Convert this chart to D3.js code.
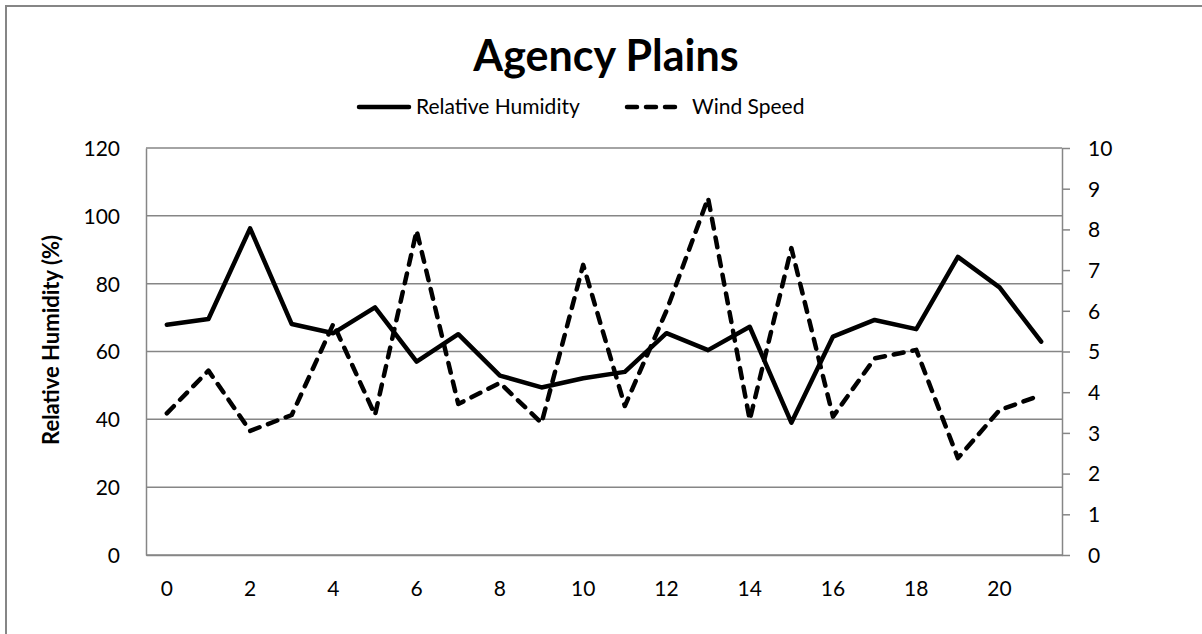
<!DOCTYPE html>
<html>
<head>
<meta charset="utf-8">
<script src="https://cdn.jsdelivr.net/npm/d3@7"></script>
<style>
  body { margin: 0; background: #fff; }
  text { font-family: Lato, "Open Sans", sans-serif; fill: #000; }
</style>
</head>
<body>
<div id="chart"></div>
<script>
var svgWidth = 1202;
var svgHeight = 634;

// data
var hours = d3.range(0, 22);
var humidity = [67.9, 69.6, 96.3, 68.1, 65.4, 73.0, 57.0, 65.1, 52.9, 49.4, 52.1,
  54.0, 65.4, 60.4, 67.3, 39.0, 64.4, 69.3, 66.6, 87.9, 78.9, 62.9];
var windSpeed = [3.48, 4.53, 3.05, 3.44, 5.68, 3.44, 7.97, 3.71, 4.23, 3.24, 7.13,
  3.66, 6.0, 8.77, 3.32, 7.54, 3.40, 4.83, 5.04, 2.38, 3.56, 3.93];
var leftTicks = [0, 20, 40, 60, 80, 100, 120];
var rightTicks = [0, 1, 2, 3, 4, 5, 6, 7, 8, 9, 10];
var xLabels = [0, 2, 4, 6, 8, 10, 12, 14, 16, 18, 20];

var margin = { top: 148, right: 140, bottom: 79, left: 146 };
var width = svgWidth - margin.left - margin.right;
var height = svgHeight - margin.top - margin.bottom;

var svg = d3.select("#chart")
  .append("svg")
  .attr("width", svgWidth)
  .attr("height", svgHeight);

// outer chart border (cropped on right and bottom)
svg.append("path")
  .attr("d", "M6,640 L6,6 L1210,6")
  .attr("fill", "none")
  .attr("stroke", "#868686")
  .attr("stroke-width", 2);

var chartGroup = svg.append("g")
  .attr("transform", `translate(${margin.left}, ${margin.top})`);

// scales
var xScale = d3.scaleBand()
  .domain(hours)
  .range([0, width]);
var yLeft = d3.scaleLinear().domain([0, 120]).range([height, 0]);
var yRight = d3.scaleLinear().domain([0, 10]).range([height, 0]);

var gridColor = "#868686";

// gridlines
chartGroup.selectAll(".grid")
  .data(leftTicks)
  .enter()
  .append("line")
  .attr("x1", 0)
  .attr("x2", width)
  .attr("y1", d => yLeft(d))
  .attr("y2", d => yLeft(d))
  .attr("stroke", gridColor)
  .attr("stroke-width", 1.5);

// left axis (labels only)
var leftAxis = d3.axisLeft(yLeft).tickValues(leftTicks).tickSize(0).tickPadding(26);
var gl = chartGroup.append("g").call(leftAxis);
gl.select(".domain").attr("stroke", gridColor).attr("stroke-width", 1.5);
gl.selectAll("text").style("font-size", "21px").attr("dy", "0.35em");

// right axis
var rightAxis = d3.axisRight(yRight).tickValues(rightTicks).tickSize(8).tickSizeOuter(0).tickPadding(18);
var gr = chartGroup.append("g")
  .attr("transform", `translate(${width}, 0)`)
  .call(rightAxis);
gr.select(".domain").attr("stroke", gridColor).attr("stroke-width", 1.5);
gr.selectAll(".tick line").attr("stroke", gridColor).attr("stroke-width", 1.5);
gr.selectAll("text").style("font-size", "21px").attr("dy", "0.35em");

// bottom axis
var bottomAxis = d3.axisBottom(xScale).tickValues(xLabels).tickSize(0).tickPadding(26);
var gb = chartGroup.append("g")
  .attr("transform", `translate(0, ${height})`)
  .call(bottomAxis);
gb.select(".domain").attr("stroke", gridColor).attr("stroke-width", 1.5);
gb.selectAll("text").style("font-size", "21px");

// lines
var rhLine = d3.line()
  .x((d, i) => xScale(hours[i]) + xScale.bandwidth() / 2)
  .y(d => yLeft(d));
var wsLine = d3.line()
  .x((d, i) => xScale(hours[i]) + xScale.bandwidth() / 2)
  .y(d => yRight(d));

chartGroup.append("path")
  .datum(humidity)
  .attr("d", rhLine)
  .attr("fill", "none")
  .attr("stroke", "#000")
  .attr("stroke-width", 4.5)
  .attr("stroke-linejoin", "round")
  .attr("stroke-linecap", "round");

chartGroup.append("path")
  .datum(windSpeed)
  .attr("d", wsLine)
  .attr("fill", "none")
  .attr("stroke", "#000")
  .attr("stroke-width", 4.5)
  .attr("stroke-dasharray", "10,9")
  .attr("stroke-linejoin", "round")
  .attr("stroke-linecap", "round");

// title
svg.append("text")
  .attr("x", 606)
  .attr("y", 71)
  .attr("text-anchor", "middle")
  .style("font-size", "43px")
  .style("font-weight", "bold")
  .text("Agency Plains");

// legend
var legend = svg.append("g");
legend.append("line")
  .attr("x1", 359).attr("x2", 409).attr("y1", 107).attr("y2", 107)
  .attr("stroke", "#000").attr("stroke-width", 4.5).attr("stroke-linecap", "round");
legend.append("text")
  .attr("x", 416).attr("y", 107).attr("dy", "0.35em")
  .style("font-size", "21px")
  .text("Relative Humidity");
legend.append("line")
  .attr("x1", 627).attr("x2", 677).attr("y1", 107).attr("y2", 107)
  .attr("stroke", "#000").attr("stroke-width", 4.5)
  .attr("stroke-dasharray", "10,9").attr("stroke-linecap", "round");
legend.append("text")
  .attr("x", 692).attr("y", 107).attr("dy", "0.35em")
  .style("font-size", "21px")
  .text("Wind Speed");

// y axis title
svg.append("text")
  .attr("transform", "translate(59, 340) rotate(-90)")
  .attr("text-anchor", "middle")
  .style("font-size", "22px")
  .style("font-weight", "bold")
  .text("Relative Humidity (%)");
</script>
</body>
</html>
